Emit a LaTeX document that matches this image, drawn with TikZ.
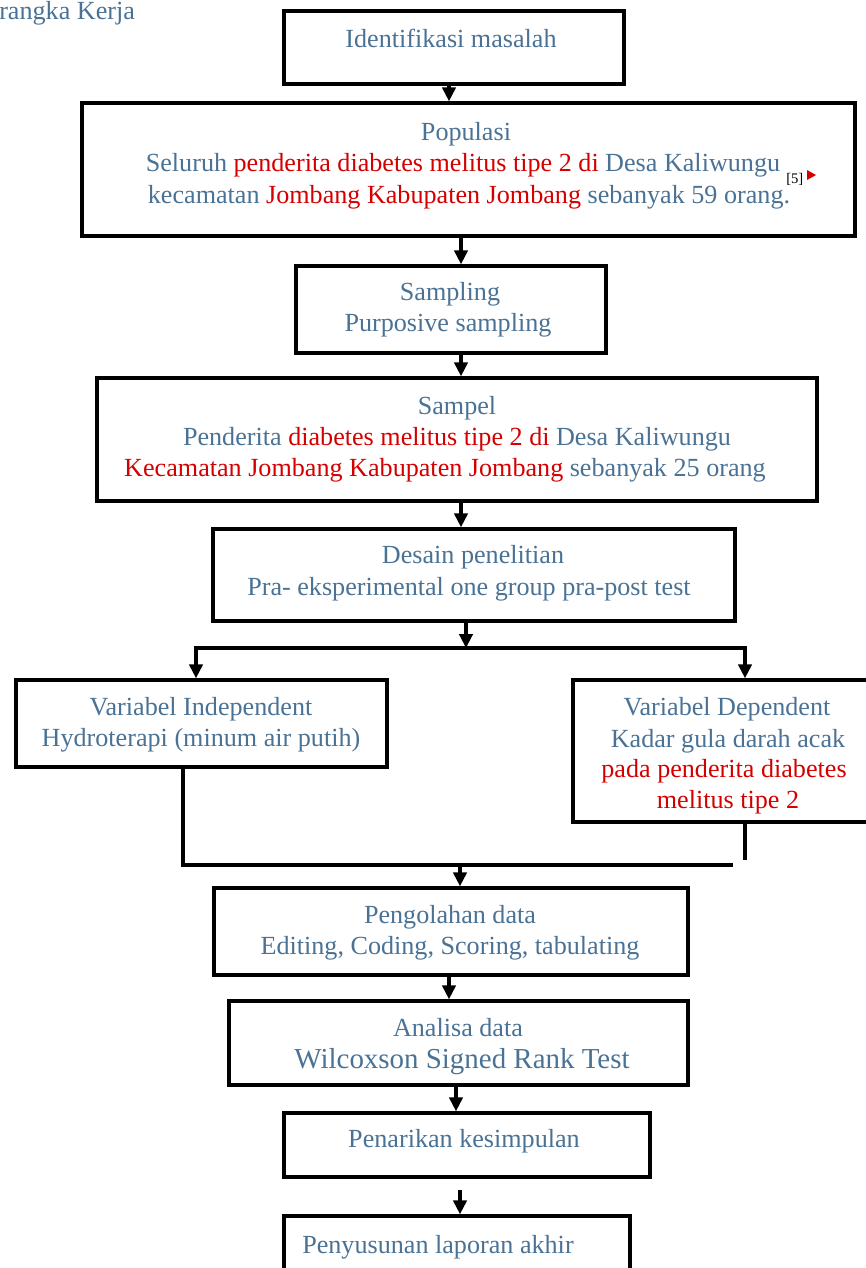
\documentclass[tikz,border=0pt]{standalone}
\usepackage{fontspec}
\setmainfont{Liberation Serif}
\usetikzlibrary{arrows.meta,fit}
\definecolor{tb}{HTML}{4A7295}
\definecolor{tr}{HTML}{D40000}
\tikzset{
  box/.style={draw=black, line width=2.5pt, inner sep=0pt, fill=none},
  tl/.style={text=tb, anchor=base, inner sep=0pt, font=\fontsize{19.6}{23.5}\selectfont},
  conn/.style={line width=2.4pt, black},
  arr/.style={line width=2.4pt, black, -{Triangle[width=10pt,length=10.5pt]}},
}
\newcommand{\rd}[1]{\textcolor{tr}{#1}}
\begin{document}
\begin{tikzpicture}[x=0.75pt,y=-0.75pt]
\useasboundingbox (0,0) rectangle (866,1268);
\clip (0,0) rectangle (866,1268);

% title
\node[tl, anchor=base west] (title) at (-1,19) {rangka Kerja};

% boxes
\node[box, fit={(284,11)(624,84)}] (b1) {};
\node[box, fit={(82,103)(855,236)}] (b2) {};
\node[box, fit={(296,266)(606,353)}] (b3) {};
\node[box, fit={(97,378)(817,501)}] (b4) {};
\node[box, fit={(213,529)(735,621)}] (b5) {};
\node[box, fit={(16,680)(387,767)}] (b6) {};
\node[box, fit={(573,680)(885,822)}] (b7) {};
\node[box, fit={(214,888)(688,975)}] (b8) {};
\node[box, fit={(229,1001)(688,1085)}] (b9) {};
\node[box, fit={(284,1113)(650,1177)}] (b10) {};
\node[box, fit={(284,1216)(630,1300)}] (b11) {};

% texts
\node[tl] (t1) at (451,47) {Identifikasi masalah};

\node[tl] (t2a) at (466,140) {Populasi};
\node[tl] (t2b) at (463,171) {Seluruh \rd{penderita diabetes melitus tipe 2 di} Desa Kaliwungu};
\node[tl] (t2c) at (469,203) {kecamatan \rd{Jombang Kabupaten Jombang} sebanyak 59 orang.};
\node[anchor=base west, inner sep=0pt, font=\fontsize{11}{11}\selectfont] (ref) at (786,183) {[5]};
\fill[tr] (807,170) -- (816,175) -- (807,180) -- cycle;

\node[tl] (t3a) at (450,300) {Sampling};
\node[tl] (t3b) at (448,331) {Purposive sampling};

\node[tl] (t4a) at (457,414) {Sampel};
\node[tl] (t4b) at (457,445) {Penderita \rd{diabetes melitus tipe 2 di} Desa Kaliwungu};
\node[tl] (t4c) at (445,476) {\rd{Kecamatan Jombang Kabupaten Jombang} sebanyak 25 orang};

\node[tl] (t5a) at (473,563) {Desain penelitian};
\node[tl] (t5b) at (469,595) {Pra- eksperimental one group pra-post test};

\node[tl] (t6a) at (201,715) {Variabel Independent};
\node[tl] (t6b) at (201,746) {Hydroterapi (minum air putih)};

\node[tl] (t7a) at (727,715) {Variabel Dependent};
\node[tl] (t7b) at (728,747) {Kadar gula darah acak};
\node[tl, text=tr] (t7c) at (724,777) {pada penderita diabetes};
\node[tl, text=tr] (t7d) at (728,808) {melitus tipe 2};

\node[tl] (t8a) at (450,923) {Pengolahan data};
\node[tl] (t8b) at (450,954) {Editing, Coding, Scoring, tabulating};

\node[tl] (t9a) at (458,1036) {Analisa data};
\node[tl, font=\fontsize{21.7}{26}\selectfont] (t9b) at (462,1068) {Wilcoxson Signed Rank Test};

\node[tl] (t10) at (464,1147) {Penarikan kesimpulan};

\node[tl, anchor=base west] (t11) at (302,1253) {Penyusunan laporan akhir};

% helper coordinates
\coordinate (x449) at (449,0);
\coordinate (x456) at (456,0);
\coordinate (x461) at (461,0);
\coordinate (sp) at (466,648);
\coordinate (xl) at (196,0);
\coordinate (xr) at (745,0);
\coordinate (ml) at (183,0);
\coordinate (mr) at (733,865);
\coordinate (re) at (745,860);
\coordinate (mc) at (460,865);
\coordinate (g) at (460,1190);

% connectors
\draw[arr] (b1.south -| x449) -- (b2.north -| x449);
\draw[arr] (b2.south -| x461) -- (b3.north -| x461);
\draw[arr] (b3.south -| x461) -- (b4.north -| x461);
\draw[arr] (b4.south -| x461) -- (b5.north -| x461);
\draw[arr] (b5.south -| sp) -- (sp);
\draw[arr] (sp) -| (b6.north -| xl);
\draw[arr] (sp) -| (b7.north -| xr);
\draw[conn] (b6.south -| ml) |- (mr);
\draw[conn] (b7.south -| xr) -- (re);
\draw[arr] (mc) -- (b8.north -| mc);
\draw[arr] (b8.south -| x449) -- (b9.north -| x449);
\draw[arr] (b9.south -| x456) -- (b10.north -| x456);
\draw[arr] (g) -- (b11.north -| g);
\end{tikzpicture}
\end{document}
